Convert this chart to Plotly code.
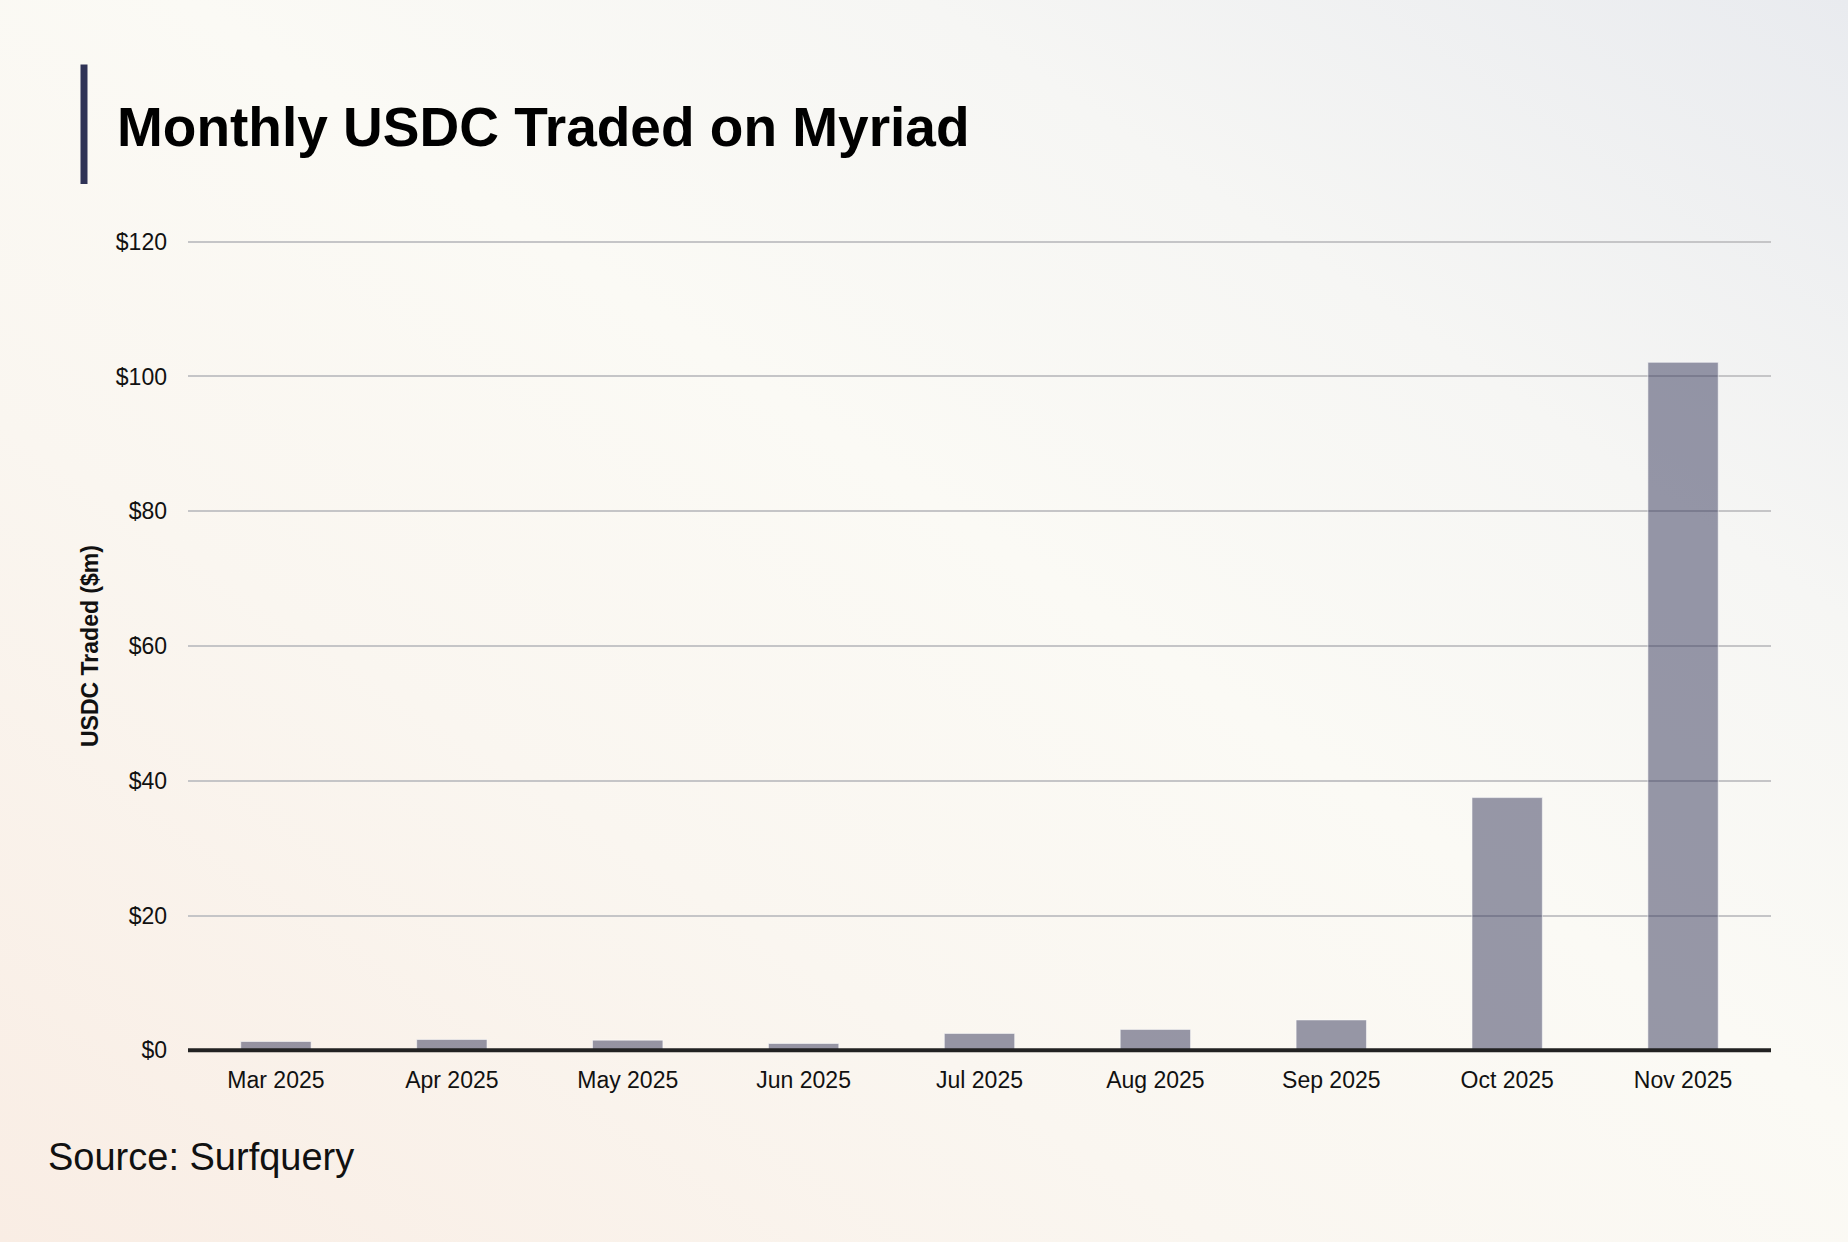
import base64
import plotly.graph_objects as go

# ---- data ----
months = ["Mar 2025", "Apr 2025", "May 2025", "Jun 2025", "Jul 2025",
          "Aug 2025", "Sep 2025", "Oct 2025", "Nov 2025"]
usdc_traded_m = [1.3, 1.6, 1.5, 1.0, 2.5, 3.1, 4.5, 37.5, 102.1]
y_tick_values = [0, 20, 40, 60, 80, 100, 120]
y_tick_labels = ["$0", "$20", "$40", "$60", "$80", "$100", "$120"]

title_text = "Monthly USDC Traded on Myriad"
y_title_text = "USDC Traded ($m)"
source_text = "Source: Surfquery"

# ---- canvas geometry ----
W, H = 1848, 1242
ML, MR, MT, MB = 188, 77, 235, 185
PW = W - ML - MR
PH = H - MT - MB


def px_x(px):
    return (px - ML) / PW


def px_y(py):
    return (H - MB - py) / PH


FONT = "Liberation Sans, Arial, sans-serif"

# background gradient as inline svg
svg = f'''<svg xmlns="http://www.w3.org/2000/svg" width="{W}" height="{H}" viewBox="0 0 {W} {H}" preserveAspectRatio="none">
<defs>
<linearGradient id="g" x1="0" y1="1" x2="1" y2="0">
<stop offset="0" stop-color="#f9ede4"/>
<stop offset="0.33" stop-color="#faf6f0"/>
<stop offset="0.55" stop-color="#fbfaf5"/>
<stop offset="0.75" stop-color="#f6f6f4"/>
<stop offset="1" stop-color="#e9ebef"/>
</linearGradient>
</defs>
<rect x="0" y="0" width="{W}" height="{H}" fill="url(#g)"/>
</svg>'''
bg_src = "data:image/svg+xml;base64," + base64.b64encode(svg.encode()).decode()

fig = go.Figure()
fig.add_trace(go.Bar(
    x=months,
    y=usdc_traded_m,
    marker=dict(color="rgba(50,52,88,0.5)",
                line=dict(color="rgba(255,255,255,0.55)", width=1)),
    width=0.4,
    hoverinfo="x+y",
))

fig.update_layout(
    width=W, height=H,
    margin=dict(l=ML, r=MR, t=MT, b=MB, pad=0),
    paper_bgcolor="#f9f7f2",
    plot_bgcolor="rgba(0,0,0,0)",
    showlegend=False,
    font=dict(family=FONT, color="#111111"),
    xaxis=dict(
        range=[-0.5, len(months) - 0.5],
        showgrid=False, zeroline=False, showline=False,
        ticks="", ticklabelstandoff=7,
        tickfont=dict(size=23, color="#111111", family=FONT),
        fixedrange=True,
    ),
    yaxis=dict(
        range=[-1, 121],
        tickvals=y_tick_values, ticktext=y_tick_labels,
        showgrid=True, gridcolor="#c5c5c7", gridwidth=2,
        zeroline=False, showline=False, ticks="",
        ticklabelstandoff=20,
        tickfont=dict(size=23, color="#111111", family=FONT),
        fixedrange=True,
    ),
    images=[dict(
        source=bg_src, xref="paper", yref="paper",
        x=px_x(0), y=px_y(0), sizex=W / PW, sizey=H / PH,
        xanchor="left", yanchor="top", sizing="stretch", layer="below",
    )],
    shapes=[
        # baseline (zero) axis line
        dict(type="line", xref="paper", yref="y", x0=0, x1=1, y0=0, y1=0,
             line=dict(color="#222222", width=4), layer="above"),
        # title accent bar
        dict(type="rect", xref="paper", yref="paper",
             x0=px_x(80.5), x1=px_x(87.5), y0=px_y(184), y1=px_y(64.5),
             fillcolor="#2f3356", line=dict(width=0), layer="above"),
    ],
    annotations=[
        dict(text=f"<b>{title_text}</b>", xref="paper", yref="paper",
             x=px_x(115), y=px_y(127), xanchor="left", yanchor="middle",
             showarrow=False, font=dict(size=55, color="#000000", family=FONT)),
        dict(text=f"<b>{y_title_text}</b>", xref="paper", yref="paper",
             x=px_x(90), y=px_y(646), xanchor="center", yanchor="middle",
             textangle=-90, showarrow=False,
             font=dict(size=23, color="#111111", family=FONT)),
        dict(text=source_text, xref="paper", yref="paper",
             x=px_x(46), y=px_y(1157), xanchor="left", yanchor="middle",
             showarrow=False, font=dict(size=38, color="#111111", family=FONT)),
    ],
)

fig.write_html("out.html", config={"displayModeBar": False})
